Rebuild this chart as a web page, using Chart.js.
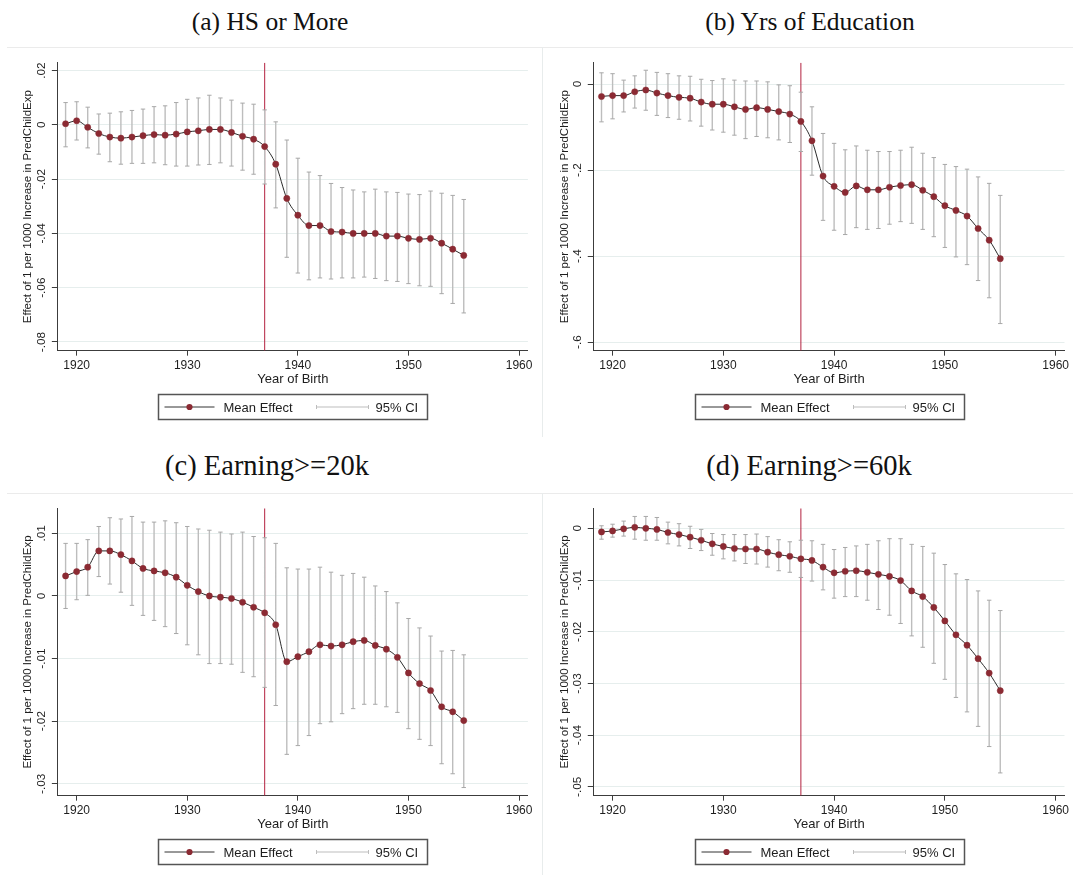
<!DOCTYPE html>
<html>
<head>
<meta charset="utf-8">
<title>Effect of PredChildExp by Year of Birth</title>
<script src="https://cdn.jsdelivr.net/npm/chart.js@4.4.1/dist/chart.umd.min.js"></script>
<style>
  html, body { margin: 0; padding: 0; background: #fff; }
  body { width: 1073px; height: 875px; position: relative; overflow: hidden; }
  canvas.panel { position: absolute; }
  .ttl {
    position: absolute; width: 400px; margin-left: -200px; text-align: center;
    font-family: "Liberation Serif", "Times New Roman", serif;
    color: #111; white-space: nowrap;
  }
  .ttl.top { font-size: 25.5px; line-height: 26px; }
  .ttl.bot { font-size: 28.5px; line-height: 30px; }
  .hr { position: absolute; height: 1px; background: #ebebeb; }
  .vr { position: absolute; width: 1px; background: #e8ecec; }
</style>
</head>
<body>

<div class="hr" style="left:7px;top:47px;width:1066px;"></div>
<div class="hr" style="left:7px;top:493px;width:1066px;"></div>
<div class="vr" style="left:542px;top:47px;height:390px;"></div>
<div class="vr" style="left:542px;top:493px;height:382px;"></div>

<div class="ttl top" style="left:270px;top:9px;">(a) HS or More</div>
<div class="ttl top" style="left:810px;top:9px;">(b) Yrs of Education</div>
<div class="ttl bot" style="left:267px;top:451px;">(c) Earning&gt;=20k</div>
<div class="ttl bot" style="left:809px;top:451px;">(d) Earning&gt;=60k</div>

<canvas id="cA" class="panel" width="540" height="390" style="left:0px;top:47px;"></canvas>
<canvas id="cB" class="panel" width="536" height="390" style="left:537px;top:47px;"></canvas>
<canvas id="cC" class="panel" width="540" height="382" style="left:0px;top:493px;"></canvas>
<canvas id="cD" class="panel" width="536" height="382" style="left:537px;top:493px;"></canvas>

<script>
// Birth cohorts
const years = [1919, 1920, 1921, 1922, 1923, 1924, 1925, 1926, 1927, 1928,
               1929, 1930, 1931, 1932, 1933, 1934, 1935, 1936, 1937, 1938,
               1939, 1940, 1941, 1942, 1943, 1944, 1945, 1946, 1947, 1948,
               1949, 1950, 1951, 1952, 1953, 1954, 1955];
const cutoffYear = 1937;
const xTicks = [1920, 1930, 1940, 1950, 1960];

// (a) HS or More
const hsMean = [0.0004, 0.0015, -0.0009, -0.0032, -0.0045, -0.0049, -0.0045, -0.0040, -0.0036, -0.0038,
                -0.0034, -0.0026, -0.0022, -0.0017, -0.0017, -0.0028, -0.0042, -0.0053, -0.0080, -0.0145,
                -0.0271, -0.0333, -0.0371, -0.0371, -0.0393, -0.0395, -0.0400, -0.0400, -0.0400, -0.0410,
                -0.0410, -0.0418, -0.0422, -0.0418, -0.0436, -0.0458, -0.0481];
const hsHi   = [0.0082, 0.0085, 0.0065, 0.0040, 0.0043, 0.0048, 0.0053, 0.0058, 0.0067, 0.0070,
                0.0082, 0.0094, 0.0099, 0.0109, 0.0099, 0.0091, 0.0080, 0.0076, 0.0055, 0.0011,
                -0.0056, -0.0123, -0.0174, -0.0187, -0.0216, -0.0231, -0.0240, -0.0247, -0.0237, -0.0247,
                -0.0249, -0.0255, -0.0257, -0.0244, -0.0252, -0.0260, -0.0275];
const hsLo   = [-0.0081, -0.0056, -0.0085, -0.0108, -0.0136, -0.0145, -0.0142, -0.0142, -0.0140, -0.0147,
                -0.0152, -0.0152, -0.0148, -0.0146, -0.0140, -0.0152, -0.0167, -0.0182, -0.0218, -0.0306,
                -0.0488, -0.0546, -0.0571, -0.0564, -0.0568, -0.0564, -0.0564, -0.0561, -0.0566, -0.0574,
                -0.0577, -0.0585, -0.0593, -0.0595, -0.0622, -0.0658, -0.0693];
const hsTicks = [0.02, 0, -0.02, -0.04, -0.06, -0.08];

// (b) Yrs of Education
const eduMean = [-0.029, -0.027, -0.027, -0.018, -0.014, -0.021, -0.027, -0.031, -0.033, -0.042,
                 -0.047, -0.047, -0.053, -0.059, -0.055, -0.059, -0.064, -0.070, -0.087, -0.132,
                 -0.214, -0.238, -0.252, -0.237, -0.246, -0.246, -0.240, -0.236, -0.234, -0.247,
                 -0.262, -0.283, -0.294, -0.307, -0.336, -0.363, -0.406];
const eduHi   = [0.026, 0.024, 0.009, 0.019, 0.032, 0.027, 0.024, 0.019, 0.018, 0.011,
                 0.008, 0.012, 0.009, 0.007, 0.007, 0.005, -0.002, -0.004, -0.019, -0.053,
                 -0.115, -0.138, -0.153, -0.144, -0.154, -0.157, -0.157, -0.154, -0.147, -0.161,
                 -0.171, -0.187, -0.192, -0.198, -0.216, -0.231, -0.259];
const eduLo   = [-0.088, -0.081, -0.065, -0.056, -0.061, -0.073, -0.078, -0.082, -0.086, -0.098,
                 -0.107, -0.112, -0.119, -0.127, -0.122, -0.125, -0.130, -0.136, -0.157, -0.212,
                 -0.317, -0.340, -0.350, -0.334, -0.338, -0.336, -0.326, -0.320, -0.324, -0.338,
                 -0.355, -0.380, -0.402, -0.420, -0.457, -0.497, -0.557];
const eduTicks = [0, -0.2, -0.4, -0.6];

// (c) Earning>=20k
const e20Mean = [0.0032, 0.0039, 0.0046, 0.0072, 0.0072, 0.0066, 0.0056, 0.0044, 0.0040, 0.0037,
                 0.0030, 0.0017, 0.0007, 0.0000, -0.0002, -0.0004, -0.0010, -0.0018, -0.0027, -0.0046,
                 -0.0105, -0.0097, -0.0089, -0.0078, -0.0080, -0.0078, -0.0073, -0.0071, -0.0079, -0.0085,
                 -0.0098, -0.0123, -0.0140, -0.0151, -0.0177, -0.0185, -0.0199];
const e20Hi   = [0.0084, 0.0084, 0.0090, 0.0111, 0.0125, 0.0123, 0.0127, 0.0118, 0.0118, 0.0120,
                 0.0117, 0.0111, 0.0107, 0.0105, 0.0102, 0.0099, 0.0102, 0.0095, 0.0093, 0.0084,
                 0.0045, 0.0043, 0.0043, 0.0046, 0.0038, 0.0033, 0.0036, 0.0030, 0.0016, 0.0007,
                 -0.0011, -0.0036, -0.0051, -0.0064, -0.0088, -0.0087, -0.0094];
const e20Lo   = [-0.0020, -0.0006, 0.0001, 0.0031, 0.0019, 0.0006, -0.0015, -0.0031, -0.0039, -0.0049,
                 -0.0060, -0.0078, -0.0094, -0.0108, -0.0108, -0.0109, -0.0122, -0.0129, -0.0146, -0.0175,
                 -0.0253, -0.0239, -0.0223, -0.0204, -0.0201, -0.0188, -0.0180, -0.0173, -0.0173, -0.0177,
                 -0.0186, -0.0212, -0.0229, -0.0239, -0.0268, -0.0284, -0.0306];
const e20Ticks = [0.01, 0, -0.01, -0.02, -0.03];

// (d) Earning>=60k
const e60Mean = [-0.0007, -0.0005, -0.0001, 0.0002, 0.0000, -0.0002, -0.0008, -0.0012, -0.0017, -0.0023,
                 -0.0030, -0.0035, -0.0039, -0.0040, -0.0040, -0.0046, -0.0051, -0.0054, -0.0059, -0.0062,
                 -0.0075, -0.0086, -0.0083, -0.0082, -0.0085, -0.0089, -0.0093, -0.0101, -0.0121, -0.0132,
                 -0.0153, -0.0179, -0.0206, -0.0226, -0.0252, -0.0280, -0.0314];
const e60Hi   = [0.0005, 0.0008, 0.0014, 0.0023, 0.0023, 0.0021, 0.0012, 0.0009, 0.0004, -0.0002,
                 -0.0010, -0.0012, -0.0012, -0.0012, -0.0011, -0.0016, -0.0022, -0.0026, -0.0023, -0.0024,
                 -0.0031, -0.0041, -0.0037, -0.0034, -0.0031, -0.0024, -0.0020, -0.0020, -0.0031, -0.0035,
                 -0.0048, -0.0070, -0.0088, -0.0099, -0.0121, -0.0139, -0.0159];
const e60Lo   = [-0.0021, -0.0017, -0.0015, -0.0021, -0.0023, -0.0023, -0.0030, -0.0034, -0.0039, -0.0043,
                 -0.0052, -0.0059, -0.0063, -0.0068, -0.0069, -0.0075, -0.0082, -0.0085, -0.0095, -0.0102,
                 -0.0119, -0.0135, -0.0132, -0.0132, -0.0139, -0.0157, -0.0168, -0.0184, -0.0208, -0.0230,
                 -0.0261, -0.0292, -0.0327, -0.0355, -0.0383, -0.0422, -0.0473];
const e60Ticks = [0, -0.01, -0.02, -0.03, -0.04, -0.05];

const SANS = '"Liberation Sans", Arial, Helvetica, sans-serif';
const MARKER = '#8b2a33';
const CI_COLOR = '#bdbdbd';
const AXIS = '#3c3c3c';
const TEXT = '#1e1e1e';

// Stata-style numeric labels: drop the leading zero (".02", "-.4")
function fmt(v) {
  if (v === 0) return '0';
  return String(+v.toFixed(4)).replace(/^(-?)0\./, '$1.');
}

// Rotated y tick labels and the boxed legend under each plot
const decor = {
  id: 'decor',
  afterDraw(chart, args, opts) {
    const { ctx, chartArea: a } = chart;
    const ys = chart.scales.y;
    ctx.save();
    ctx.fillStyle = TEXT;
    ctx.font = '11.8px ' + SANS;
    ctx.textAlign = 'center';
    ctx.textBaseline = 'middle';
    opts.yTicks.forEach(v => {
      const py = ys.getPixelForValue(v);
      ctx.save();
      ctx.translate(a.left - 16.5, py);
      ctx.rotate(-Math.PI / 2);
      ctx.fillText(fmt(v), 0, 0);
      ctx.restore();
    });

    const w = 269, h = 25;
    const x0 = Math.round((a.left + a.right) / 2 - w / 2) + 0.5;
    const y0 = Math.round(a.bottom + 43.5) + 0.5;
    const cy = y0 + h / 2;
    ctx.strokeStyle = '#555';
    ctx.lineWidth = 1.5;
    ctx.strokeRect(x0, y0, w, h);

    ctx.strokeStyle = '#333';
    ctx.lineWidth = 1;
    ctx.beginPath(); ctx.moveTo(x0 + 6, cy); ctx.lineTo(x0 + 56, cy); ctx.stroke();
    ctx.fillStyle = MARKER;
    ctx.beginPath(); ctx.arc(x0 + 31, cy, 3.1, 0, Math.PI * 2); ctx.fill();

    ctx.strokeStyle = CI_COLOR;
    ctx.beginPath();
    ctx.moveTo(x0 + 158, cy); ctx.lineTo(x0 + 210, cy);
    ctx.moveTo(x0 + 158, cy - 2); ctx.lineTo(x0 + 158, cy + 2);
    ctx.moveTo(x0 + 210, cy - 2); ctx.lineTo(x0 + 210, cy + 2);
    ctx.stroke();

    ctx.fillStyle = TEXT;
    ctx.font = '13px ' + SANS;
    ctx.textAlign = 'left';
    ctx.textBaseline = 'middle';
    ctx.fillText('Mean Effect', x0 + 65, cy + 1);
    ctx.fillText('95% CI', x0 + 217, cy + 1);
    ctx.restore();
  }
};

function makePanel(id, p) {
  const canvas = document.getElementById(id);
  const W = canvas.width, H = canvas.height;
  const xAxisH = 40;
  const meanPts = years.map((yr, i) => ({ x: yr, y: p.mean[i] }));
  const ciPts = [];
  years.forEach((yr, i) => {
    ciPts.push({ x: yr, y: p.lo[i] }, { x: yr, y: p.hi[i] }, { x: yr, y: null });
  });
  const cutPts = [{ x: cutoffYear, y: p.yMin }, { x: cutoffYear, y: p.yMax }];

  return new Chart(canvas, {
    type: 'line',
    data: {
      datasets: [
        {
          label: 'Mean Effect', data: meanPts, order: 0,
          borderColor: '#2a2a2a', borderWidth: 1, cubicInterpolationMode: 'monotone',
          pointRadius: 3.1, pointBackgroundColor: MARKER, pointBorderColor: MARKER, pointBorderWidth: 0.5
        },
        {
          label: '95% CI', data: ciPts, order: 1, spanGaps: false, tension: 0,
          borderColor: CI_COLOR, borderWidth: 1.4,
          pointStyle: 'line', pointRadius: 2.2, pointBorderColor: '#a8a8a8', pointBorderWidth: 1
        },
        {
          label: 'cutoff', data: cutPts, order: 2,
          borderColor: '#b3213f', borderWidth: 1, pointRadius: 0
        }
      ]
    },
    options: {
      responsive: false,
      animation: false,
      events: [],
      layout: {
        padding: { left: 0, top: p.area.top, right: W - p.area.right, bottom: H - p.area.bottom - xAxisH }
      },
      plugins: {
        legend: { display: false },
        tooltip: { enabled: false },
        decor: { yTicks: p.yTicks }
      },
      scales: {
        x: {
          type: 'linear', min: 1918.3, max: 1960.8,
          afterBuildTicks: s => { s.ticks = xTicks.map(v => ({ value: v })); },
          afterFit: s => { s.height = xAxisH; },
          ticks: {
            callback: v => String(v), color: TEXT, padding: 3, maxRotation: 0, autoSkip: false,
            font: { family: SANS, size: 12 }
          },
          grid: { drawOnChartArea: false, drawTicks: true, tickLength: 5, tickColor: AXIS, tickWidth: 1 },
          border: { display: true, color: AXIS, width: 1 },
          title: {
            display: true, text: 'Year of Birth', color: TEXT,
            font: { family: SANS, size: 13 }, padding: { top: 0, bottom: 3.5 }
          }
        },
        y: {
          type: 'linear', min: p.yMin, max: p.yMax,
          afterBuildTicks: s => { s.ticks = p.yTicks.map(v => ({ value: v })); },
          afterFit: s => { s.width = p.area.left; },
          ticks: { display: false },
          grid: { color: '#e6eeed', lineWidth: 1, drawTicks: true, tickLength: 6, tickColor: AXIS, tickWidth: 1 },
          border: { display: true, color: AXIS, width: 1 },
          title: {
            display: true, text: 'Effect of 1 per 1000 Increase in PredChildExp', color: TEXT,
            font: { family: SANS, size: 11.5 }, padding: { top: 20.6, bottom: 0 }
          }
        }
      }
    },
    plugins: [decor]
  });
}

makePanel('cA', {
  mean: hsMean, lo: hsLo, hi: hsHi, yTicks: hsTicks, yMin: -0.0832, yMax: 0.0229,
  area: { left: 57.85, top: 15.67, right: 527.9, bottom: 303.67 }
});
makePanel('cB', {
  mean: eduMean, lo: eduLo, hi: eduHi, yTicks: eduTicks, yMin: -0.620, yMax: 0.0496,
  area: { left: 56.75, top: 15.67, right: 527.5, bottom: 303.67 }
});
makePanel('cC', {
  mean: e20Mean, lo: e20Lo, hi: e20Hi, yTicks: e20Ticks, yMin: -0.0319, yMax: 0.0140,
  area: { left: 57.85, top: 15.33, right: 527.9, bottom: 302.67 }
});
makePanel('cD', {
  mean: e60Mean, lo: e60Lo, hi: e60Hi, yTicks: e60Ticks, yMin: -0.0517, yMax: 0.00387,
  area: { left: 56.75, top: 15.33, right: 527.5, bottom: 302.67 }
});
</script>
</body>
</html>
